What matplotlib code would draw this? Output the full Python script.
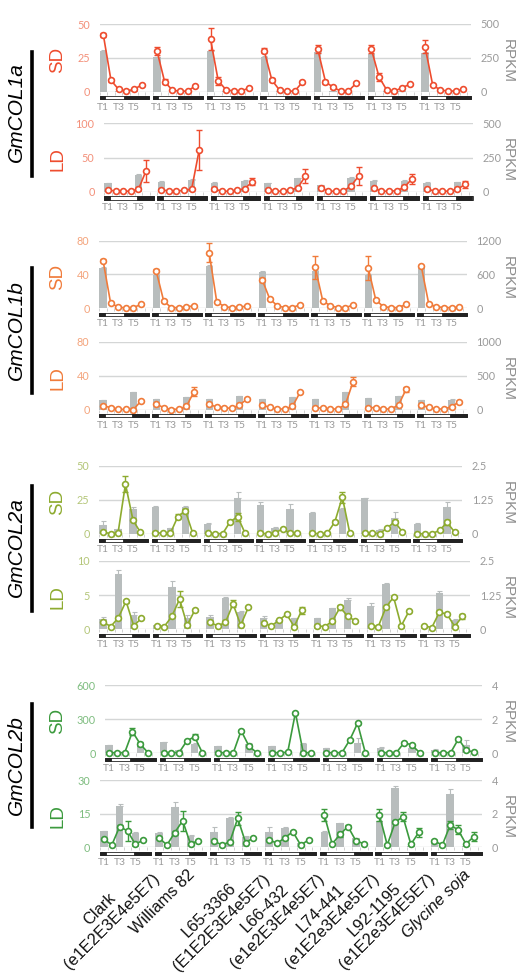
import numpy as np
import matplotlib
matplotlib.use("Agg")
import matplotlib.pyplot as plt
from matplotlib.patches import Rectangle
from matplotlib.lines import Line2D
import matplotlib.transforms as mtransforms

# ---------------- data ----------------
genotypes = ["Clark\n(e1E2E3E4e5E7)", "Williams 82", "L65-3366\n(E1E2E3E4e5E7)",
             "L66-432\n(e1e2E3E4e5E7)", "L74-441\n(e1E2e3E4e5E7)",
             "L92-1195\n(e1E2e3E4E5E7)", "Glycine soja"]
time_points = ["T1", "T2", "T3", "T4", "T5", "T6"]
time_labels = ["T1", "T3", "T5"]
bar_times = [0, 2, 4]  # RPKM sampled at T1, T3, T5

# GmCOL1a SD (qPCR line, left axis; RPKM bars, right axis)
col1a_sd_line = [[42, 8.4, 1.7, 0.5, 1.7, 5.0], [30.3, 7.4, 1.2, 0.3, 0.5, 4.2],
                 [38.7, 8.1, 1.5, 0.5, 0.5, 2.7], [30.3, 8.6, 1.2, 0.3, 0.5, 7.1],
                 [31.3, 7.4, 3.2, 0.5, 0.5, 6.2], [31.3, 10.8, 1.2, 0.3, 3.0, 5.4],
                 [33.3, 4.9, 1.2, 0.5, 0.5, 1.7]]
col1a_sd_err = [[1.5, 1, 0.3, 0.2, 0.3, 0.6], [3, 2, 0.3, 0.2, 0.2, 0.6],
                [8, 3, 0.3, 0.2, 0.2, 0.5], [2, 1.5, 0.3, 0.2, 0.2, 0.6],
                [3, 1.5, 1, 0.2, 0.2, 0.6], [3, 3, 0.3, 0.2, 0.5, 0.6],
                [5, 1, 0.3, 0.2, 0.2, 0.4]]
col1a_sd_bar = [[303, 2, 2], [254, 2, 2], [300, 2, 2], [259, 2, 2],
                [293, 2, 2], [276, 2, 2], [288, 2, 2]]
col1a_sd_bar_err = [[5, 0, 0]] * 7

# GmCOL1a LD
col1a_ld_line = [[2.4, 1, 0.5, 1, 3.4, 30.7], [2.9, 1, 0.5, 2.4, 3.4, 61],
                 [3.4, 1, 0.5, 2, 4.4, 14.6], [2.9, 1, 0.5, 2.4, 5.9, 23],
                 [5.9, 1, 0.5, 1, 8.3, 23], [4.9, 1, 0.5, 1.5, 6.3, 18.5],
                 [3.9, 1, 0.5, 1, 3.4, 10.7]]
col1a_ld_err = [[0.5, 0.3, 0.2, 0.3, 1, 16], [0.5, 0.3, 0.2, 0.5, 1, 29],
                [0.5, 0.3, 0.2, 0.5, 1, 5], [0.5, 0.3, 0.2, 0.5, 1, 10],
                [2, 0.3, 0.2, 0.3, 2, 13], [1, 0.3, 0.2, 0.3, 1, 7],
                [0.5, 0.3, 0.2, 0.3, 1, 5]]
col1a_ld_bar = [[61, 3, 122], [73, 3, 85], [66, 3, 78], [61, 3, 98],
                [49, 3, 102], [80, 3, 80], [66, 3, 68]]
col1a_ld_bar_err = [[3, 0, 5]] * 7

# GmCOL1b SD
col1b_sd_line = [[56.3, 5.9, 1.6, 0.3, 0.8, 4.7], [44.5, 8.7, 0.8, 0.8, 1.6, 3.1],
                 [66, 7.9, 2.0, 0.8, 1.2, 2.8], [33.9, 11, 3.1, 0.8, 0.8, 4.3],
                 [48.4, 8.7, 3.1, 0.8, 0.8, 3.9], [48, 9.8, 2.0, 0.8, 0.8, 4.7],
                 [50, 4.7, 2.0, 0.8, 0.8, 1.2]]
col1b_sd_err = [[1.5, 0.5, 0.3, 0.2, 0.2, 0.5], [2, 1, 0.3, 0.2, 0.2, 0.5],
                [11, 1, 0.3, 0.2, 0.2, 0.5], [2, 1, 0.5, 0.2, 0.2, 0.5],
                [14, 1, 0.5, 0.2, 0.2, 0.5], [14, 1, 0.3, 0.2, 0.2, 0.5],
                [1.5, 0.5, 0.3, 0.2, 0.2, 0.3]]
col1b_sd_bar = [[722, 5, 5], [591, 5, 5], [751, 5, 5], [639, 5, 5],
                [669, 5, 5], [592, 5, 5], [740, 5, 5]]
col1b_sd_bar_err = [[10, 0, 0], [10, 0, 0], [10, 0, 0], [30, 0, 0],
                    [10, 0, 0], [10, 0, 0], [10, 0, 0]]

# GmCOL1b LD
col1b_ld_line = [[4.7, 2.4, 0.4, 0.4, 0.2, 10.2], [6.7, 2.4, 0.2, 0.8, 3.9, 21.2],
                 [6.3, 3.1, 2.4, 1.5, 5.5, 12.5], [5.5, 2.7, 0.8, 0.8, 3.9, 20.4],
                 [2.0, 2.0, 0.8, 0.8, 6.3, 33], [2.4, 2.4, 0.8, 0.8, 5.5, 24],
                 [5.1, 2.7, 0.8, 0.8, 3.5, 9.4]]
col1b_ld_err = [[0.5, 0.3, 0.2, 0.2, 0.2, 1], [0.5, 0.3, 0.2, 0.2, 0.5, 5],
                [0.5, 0.3, 0.2, 0.2, 0.5, 1], [0.5, 0.3, 0.2, 0.2, 0.5, 1],
                [0.5, 0.3, 0.2, 0.2, 0.5, 5], [0.5, 0.3, 0.2, 0.2, 0.5, 3],
                [0.5, 0.3, 0.2, 0.2, 0.5, 1]]
col1b_ld_bar = [[142, 3, 255], [152, 3, 186], [152, 3, 201], [152, 3, 181],
                [157, 3, 255], [167, 3, 201], [137, 3, 147]]
col1b_ld_bar_err = [[5, 0, 5]] * 7

# GmCOL2a SD
col2a_sd_line = [[1.5, 0.2, 0.5, 36.6, 10.2, 1.2], [1.0, 0.5, 0.5, 12.7, 17.1, 0.5],
                 [0.5, 0.2, 0.3, 9.0, 12.7, 0.5], [0.5, 0.2, 0.5, 3.9, 0.5, 0.5],
                 [0.5, 0.2, 0.5, 9.0, 27.0, 0.5], [0.5, 0.5, 0.3, 4.4, 9.0, 1.7],
                 [0.2, 0.2, 0.2, 2.7, 8.5, 1.5]]
col2a_sd_err = [[0.3, 0.1, 0.1, 6, 1, 0.3], [0.3, 0.1, 0.1, 2, 1.5, 0.1],
                [0.1, 0.1, 0.1, 1, 3, 0.1], [0.1, 0.1, 0.1, 0.5, 0.1, 0.1],
                [0.1, 0.1, 0.1, 1, 4, 0.1], [0.1, 0.1, 0.1, 0.5, 1, 0.3],
                [0.1, 0.1, 0.1, 0.5, 2, 0.3]]
col2a_sd_bar = [[0.34, 0.17, 0.93], [0.99, 0.21, 1.00], [0.38, 0.0, 1.30],
                [1.06, 0.21, 0.90], [0.78, 0.0, 0.90], [1.30, 0.15, 0.57],
                [0.38, 0.0, 1.00]]
col2a_sd_bar_err = [[0.14, 0.02, 0.05], [0.04, 0.02, 0.03], [0.03, 0, 0.25],
                    [0.10, 0.03, 0.18], [0.02, 0, 0.05], [0.03, 0.03, 0.25],
                    [0.02, 0, 0.16]]

# GmCOL2a LD
col2a_ld_line = [[1.07, 0.4, 1.7, 4.1, 0.5, 1.6], [0.5, 0.4, 1.9, 4.4, 0.6, 2.8],
                 [1.0, 0.5, 1.0, 3.7, 0.6, 3.2], [0.9, 0.5, 1.3, 2.2, 0.4, 2.8],
                 [0.5, 0.4, 1.2, 3.2, 1.9, 1.2], [0.5, 0.4, 3.2, 4.7, 0.5, 2.6],
                 [0.5, 0.25, 2.5, 2.2, 0.4, 1.9]]
col2a_ld_err = [[0.1, 0.05, 0.1, 0.2, 0.05, 0.1], [0.05, 0.05, 0.1, 1.2, 0.05, 0.2],
                [0.05, 0.05, 0.1, 0.5, 0.05, 0.1], [0.05, 0.05, 0.1, 0.1, 0.05, 0.5],
                [0.05, 0.05, 0.1, 0.4, 0.1, 0.1], [0.05, 0.05, 0.1, 0.2, 0.05, 0.1],
                [0.05, 0.05, 0.1, 0.1, 0.05, 0.4]]
col2a_ld_bar = [[0.36, 2.00, 0.52], [0.16, 1.53, 0.40], [0.46, 1.13, 0.64],
                [0.40, 0.34, 0.40], [0.40, 0.76, 1.07], [0.85, 1.65, 0.05],
                [0.05, 1.33, 0.34]]
col2a_ld_bar_err = [[0.1, 0.16, 0.12], [0.02, 0.23, 0.12], [0.07, 0.05, 0.02],
                    [0.07, 0.02, 0.02], [0.02, 0.02, 0.08], [0.12, 0.02, 0.0],
                    [0.0, 0.08, 0.05]]

# GmCOL2b SD
col2b_sd_line = [[3, 3, 3, 188, 79, 3], [3, 3, 3, 106, 144, 3],
                 [3, 3, 3, 197, 62, 3], [3, 3, 6, 356, 3, 3],
                 [3, 3, 3, 115, 262, 3], [3, 3, 3, 91, 71, 3],
                 [3, 3, 3, 124, 26, 6]]
col2b_sd_err = [[1, 1, 1, 30, 20, 1], [1, 1, 1, 8, 20, 1],
                [1, 1, 1, 10, 5, 1], [1, 1, 1, 10, 1, 1],
                [1, 1, 1, 8, 10, 1], [1, 1, 1, 5, 5, 1],
                [1, 1, 1, 8, 3, 1]]
col2b_sd_bar = [[0.47, 0.05, 0.41], [0.63, 0.20, 0.53], [0.41, 0.05, 0.51],
                [0.39, 0.05, 0.53], [0.27, 0.05, 0.57], [0.31, 0.05, 0.31],
                [0.20, 0.05, 0.47]]
col2b_sd_bar_err = [[0.02, 0, 0.05], [0.02, 0, 0.05], [0.02, 0, 0.05],
                    [0.02, 0, 0.05], [0.02, 0, 0.29], [0.02, 0, 0.05],
                    [0.02, 0, 0.29]]

# GmCOL2b LD
col2b_ld_line = [[3.6, 1.0, 9.3, 7.3, 1.3, 3.3], [4.3, 1.0, 6.6, 11.9, 1.5, 3.0],
                 [2.8, 1.0, 2.5, 13.0, 2.1, 4.3], [3.3, 1.8, 4.3, 7.0, 1.0, 3.3],
                 [14.5, 1.5, 5.8, 9.3, 3.0, 1.6], [14.5, 1.0, 11.2, 13.7, 1.3, 6.7],
                 [2.8, 1.0, 10.0, 7.8, 1.5, 4.8]]
col2b_ld_err = [[0.3, 0.2, 0.5, 4.5, 0.3, 0.3], [0.3, 0.2, 0.5, 4.5, 0.3, 0.3],
                [0.3, 0.2, 0.5, 3, 0.3, 0.3], [0.3, 0.2, 0.5, 0.5, 0.3, 0.3],
                [2.5, 0.2, 1, 0.5, 0.3, 0.3], [2.5, 0.2, 0.5, 2, 0.3, 2],
                [0.3, 0.2, 2, 2, 0.3, 2]]
col2b_ld_bar = [[0.98, 2.47, 0.88], [0.88, 2.43, 0.68], [0.94, 1.73, 0.64],
                [0.94, 1.17, 0.24], [0.94, 1.43, 0.54], [1.57, 3.52, 0.05],
                [0.45, 3.18, 0.05]]
col2b_ld_bar_err = [[0.02, 0.1, 0.03], [0.02, 0.3, 0.03], [0.3, 0.1, 0.03],
                    [0.3, 0.02, 0.02], [0.03, 0.03, 0.02], [0.03, 0.15, 0.0],
                    [0.03, 0.3, 0.0]]

# left / right tick values per panel
ticks_col1a_sd = ([0, 25, 50], ["0", "250", "500"])
ticks_col1a_ld = ([0, 50, 100], ["0", "250", "500"])
ticks_col1b_sd = ([0, 40, 80], ["0", "600", "1200"])
ticks_col1b_ld = ([0, 40, 80], ["0", "500", "1000"])
ticks_col2a_sd = ([0, 25, 50], ["0", "1.25", "2.5"])
ticks_col2a_ld = ([0, 5, 10], ["0", "1.25", "2.5"])
ticks_col2b_sd = ([0, 300, 600], ["0", "2", "4"])
ticks_col2b_ld = ([0, 15, 30], ["0", "2", "4"])

# ---------------- styling / layout ----------------
W, H = 524, 977
fig = plt.figure(figsize=(W / 100, H / 100), dpi=100)
BAR_C = "#b8bdbd"
TICK_GREY = "#9a9a9a"
TICK_FONT = ["Lato", "DejaVu Sans"]
LAB_FONT = ["Liberation Sans", "DejaVu Sans"]

genes = {
    "GmCOL1a": dict(line="#ee4c2e", tick="#f3907a", ycen=112, yl=(52, 176)),
    "GmCOL1b": dict(line="#f07b3a", tick="#f4a47c", ycen=330, yl=(268, 393)),
    "GmCOL2a": dict(line="#8dab2f", tick="#b4c679", ycen=547, yl=(486, 611)),
    "GmCOL2b": dict(line="#3b9a3d", tick="#7fbd80", ycen=765, yl=(704, 827)),
}

# (gene, photoperiod, line, err, bar, bar_err, ticks, x0px, x1px, ytop_px, yzero_px)
panels = [
    ("GmCOL1a", "SD", col1a_sd_line, col1a_sd_err, col1a_sd_bar, col1a_sd_bar_err, ticks_col1a_sd, 99.5, 471, 24, 91.7),
    ("GmCOL1a", "LD", col1a_ld_line, col1a_ld_err, col1a_ld_bar, col1a_ld_bar_err, ticks_col1a_ld, 104.3, 472.5, 123.3, 191.7),
    ("GmCOL1b", "SD", col1b_sd_line, col1b_sd_err, col1b_sd_bar, col1b_sd_bar_err, ticks_col1b_sd, 99.3, 466.7, 240.7, 308.3),
    ("GmCOL1b", "LD", col1b_ld_line, col1b_ld_err, col1b_ld_bar, col1b_ld_bar_err, ticks_col1b_ld, 99.3, 466.7, 341.7, 409.7),
    ("GmCOL2a", "SD", col2a_sd_line, col2a_sd_err, col2a_sd_bar, col2a_sd_bar_err, ticks_col2a_sd, 99.3, 462, 465.7, 534),
    ("GmCOL2a", "LD", col2a_ld_line, col2a_ld_err, col2a_ld_bar, col2a_ld_bar_err, ticks_col2a_ld, 99.3, 470, 560.7, 629.3),
    ("GmCOL2b", "SD", col2b_sd_line, col2b_sd_err, col2b_sd_bar, col2b_sd_bar_err, ticks_col2b_sd, 105.3, 481.7, 685, 753),
    ("GmCOL2b", "LD", col2b_ld_line, col2b_ld_err, col2b_ld_bar, col2b_ld_bar_err, ticks_col2b_ld, 100, 481.7, 780.3, 847.3),
]

PERIOD = 7
XMIN, XMAX = -0.5, 48.0
light_spans = {"SD": (0.2, 2.7), "LD": (0.2, 3.8)}

last_ax = None
for gene, pp, line, err, bar, bar_err, ticks, x0, x1, ytop, yz in panels:
    g = genes[gene]
    hpx = yz - ytop
    ax2 = fig.add_axes([x0 / W, 1 - yz / H, (x1 - x0) / W, hpx / H])
    ax = ax2.twinx()
    ax.set_zorder(ax2.get_zorder() + 1)
    ax.patch.set_visible(False)

    left_ticks, right_labels = ticks
    right_vals = [float(v) for v in right_labels]
    ax.set_ylim(0, left_ticks[-1])
    ax2.set_ylim(0, right_vals[-1])
    ax2.set_xlim(XMIN, XMAX)
    for a in (ax, ax2):
        for s in a.spines.values():
            s.set_visible(False)

    # gridlines
    for v in right_vals:
        ax2.axhline(v, color="#d4d6d6", lw=1.0, zorder=0)

    line = np.array(line); err = np.array(err)
    bar = np.array(bar); bar_err = np.array(bar_err)
    trans = mtransforms.blended_transform_factory(ax.transData, ax.transAxes)
    for gi in range(len(genotypes)):
        xs = gi * PERIOD + np.arange(len(time_points))
        bx = gi * PERIOD + np.array(bar_times)
        ax2.bar(bx, bar[gi], width=0.95, color=BAR_C, zorder=2)
        ax2.errorbar(bx, bar[gi], yerr=[np.zeros(3), bar_err[gi]], fmt="none",
                     ecolor=BAR_C, elinewidth=0.8, capsize=1.8, capthick=0.8, zorder=2)
        ax.errorbar(xs, line[gi], yerr=err[gi], fmt="none", ecolor=g["line"],
                    elinewidth=1.0, capsize=2.2, capthick=1.0, zorder=3)
        ax.plot(xs, line[gi], color=g["line"], lw=1.2, marker="o", ms=4.2,
                mfc="white", mec=g["line"], mew=1.2, zorder=4, clip_on=False)

        # day / night bar under each genotype
        yb = -7.8 / hpx
        hb = 3.2 / hpx
        s = gi * PERIOD
        ax.add_patch(Rectangle((s - 0.5, yb), 6.5, hb, transform=trans, facecolor="white",
                               edgecolor="#222222", lw=0.6, clip_on=False, zorder=5))
        ls, le = light_spans[pp]
        ax.add_patch(Rectangle((s - 0.5, yb), ls + 0.5, hb, transform=trans,
                               facecolor="#222222", edgecolor="#222222", lw=0.6,
                               clip_on=False, zorder=5))
        ax.add_patch(Rectangle((s + le, yb), 6.0 - le, hb, transform=trans,
                               facecolor="#222222", edgecolor="#222222", lw=0.6,
                               clip_on=False, zorder=5))

    # x tick labels T1 T3 T5 (shared x axis, set once on ax2)
    xt = [gi * PERIOD + t for gi in range(len(genotypes)) for t in bar_times]
    ax2.set_xticks(xt)
    ax2.set_xticklabels(time_labels * len(genotypes), fontsize=7.4, color=TICK_GREY,
                        family=TICK_FONT)
    minor = [gi * PERIOD - 0.5 + k for gi in range(len(genotypes)) for k in range(7)]
    ax2.set_xticks(minor, minor=True)
    ax2.tick_params(axis="x", which="major", length=0, pad=8)
    ax2.tick_params(axis="x", which="minor", length=2.5, width=0.6, color="#c8c8c8",
                    direction="out")
    ax2.set_xlim(XMIN, XMAX)

    # y ticks: left colored (line axis), right grey (RPKM axis)
    ax.yaxis.tick_left()
    ax.set_yticks(left_ticks)
    ax.set_yticklabels([str(v) for v in left_ticks], fontsize=7.8, color=g["tick"],
                       family=TICK_FONT)
    ax.tick_params(axis="y", length=0, pad=7)
    ax2.yaxis.tick_right()
    ax2.set_yticks(right_vals)
    ax2.set_yticklabels(right_labels, fontsize=7.8, color=TICK_GREY, family=TICK_FONT)
    ax2.tick_params(axis="y", length=0, pad=7)

    ycen = (ytop + yz) / 2
    fig.text(58 / W, 1 - (ycen + 2) / H, pp, rotation=90, ha="center", va="center",
             fontsize=13.5, color=g["line"], family=LAB_FONT)
    fig.text(508 / W, 1 - (ycen + 3) / H, "RPKM", rotation=270, ha="center", va="center",
             fontsize=11, color="#8e8e8e", family=LAB_FONT)
    last_ax = ax2

# gene labels with black bars
for name, g in genes.items():
    fig.text(16 / W, 1 - g["ycen"] / H, name, rotation=90, ha="center", va="center",
             fontsize=15, style="italic", family=LAB_FONT, color="black")
    fig.add_artist(Line2D([32 / W, 32 / W], [1 - g["yl"][0] / H, 1 - g["yl"][1] / H],
                          lw=2.6, color="black"))

# genotype labels under the last panel
transL = mtransforms.blended_transform_factory(last_ax.transData, last_ax.transAxes)
for gi, name in enumerate(genotypes):
    two_line = "\n" in name
    dx = 4.5 if two_line else 3.6
    yy = -0.17 if two_line else -0.3
    last_ax.text(gi * PERIOD + dx, yy, name, transform=transL, rotation=45,
                 rotation_mode="anchor", ha="right", va="top", multialignment="center",
                 fontsize=11.8, family=LAB_FONT, color="#111111",
                 style="italic" if name == "Glycine soja" else "normal")

fig.savefig("out.png", dpi=100)
